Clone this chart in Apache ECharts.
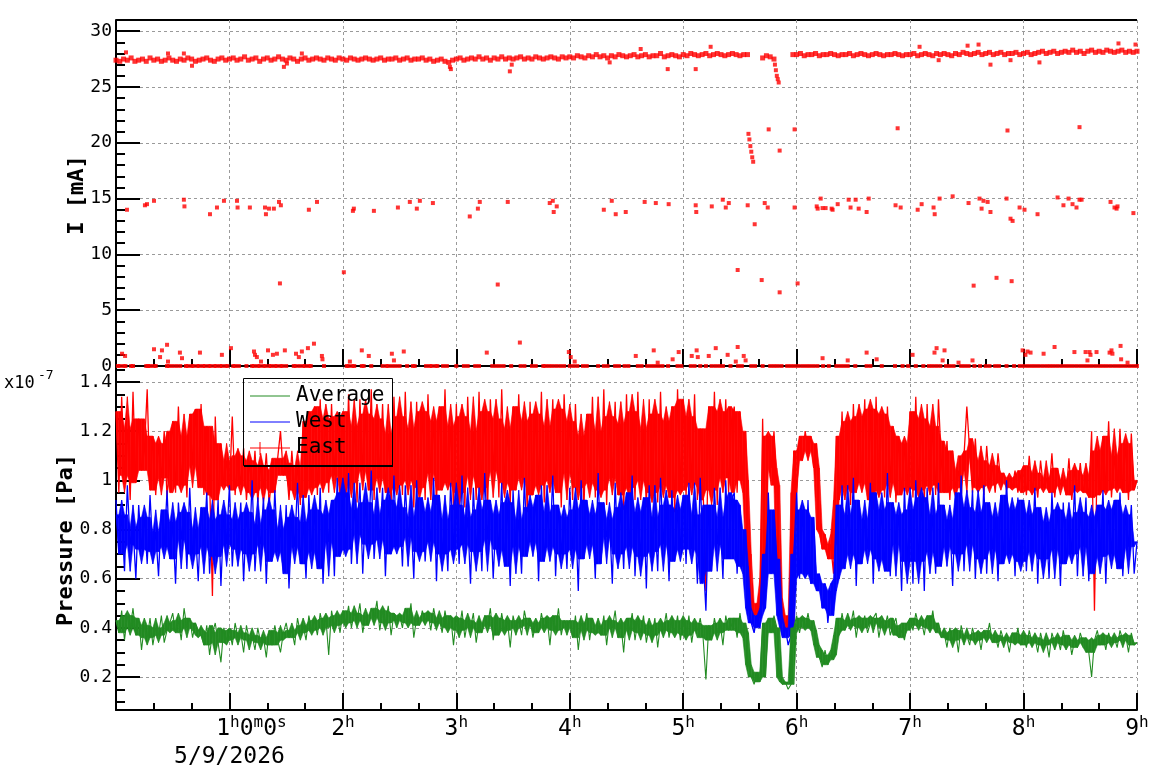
<!DOCTYPE html>
<html>
<head>
<meta charset="utf-8">
<title>I / Pressure</title>
<script src="https://cdn.jsdelivr.net/npm/echarts@6.0.0/dist/echarts.min.js"></script>
<style>
  html, body { margin: 0; padding: 0; background: #fff; }
  #chart { width: 1158px; height: 782px; }
</style>
</head>
<body>
<div id="chart"></div>
<script>
// time axis in minutes from start, labels in hours
var dateLabel = '5/9/2026'
var hourTicks = [0, 60, 120, 180, 240, 300, 360, 420, 480, 540]

// ---- beam current I [mA] ----
var currentTicks = [0, 5, 10, 15, 20, 25, 30]
var currentMinorTicks = [1, 2, 3, 4, 6, 7, 8, 9, 11, 12, 13, 14, 16, 17, 18, 19, 21, 22, 23, 24, 26, 27, 28, 29]
var currentStep = 2 // minutes between samples of the main band
var currentBand = [
  27.4,27.3,27.5,27.4,27.6,27.3,27.4,27.5,27.3,27.6,27.4,27.5,27.3,27.4,27.6,27.4,27.3,27.5,27.4,27.6,27.5,27.3,27.4,27.5,27.6,27.4,27.3,27.5,27.6,27.4,
  27.5,27.6,27.4,27.5,27.7,27.4,27.5,27.6,27.3,27.5,27.6,27.4,27.5,27.7,27.5,27.4,27.6,27.5,27.3,27.5,27.6,27.4,27.5,27.6,27.5,27.4,27.6,27.5,27.4,27.6,
  27.5,27.4,27.6,27.5,27.4,27.5,27.6,27.5,27.4,27.5,27.6,27.4,27.5,27.5,27.6,27.4,27.5,27.6,27.4,27.5,27.5,27.6,27.4,27.5,27.3,27.4,27.5,27.3,27.2,27.4,
  27.5,27.6,27.4,27.5,27.6,27.5,27.7,27.5,27.6,27.4,27.6,27.5,27.7,27.5,27.6,27.5,27.6,27.7,27.5,27.6,27.5,27.7,27.6,27.5,27.6,27.7,27.6,27.5,27.7,27.6,
  27.7,27.6,27.8,27.7,27.6,27.8,27.7,27.9,27.7,27.8,27.6,27.8,27.7,27.9,27.8,27.7,27.8,27.9,27.7,27.8,27.9,27.7,27.8,27.8,28.0,27.7,27.8,27.9,27.8,27.7,
  27.9,27.8,28.0,27.9,27.8,27.9,28.0,27.8,27.9,28.0,27.9,27.8,27.9,28.0,27.9,27.8,27.9,27.9,null,null,null,27.6,27.8,27.7,27.5,null,null,null,null,27.9,
  27.9,28.0,27.8,27.9,27.9,28.0,27.8,27.9,27.9,28.0,27.9,27.8,27.9,27.9,28.0,27.8,27.9,28.0,27.9,27.8,27.9,28.0,27.9,27.8,27.9,27.9,28.0,27.9,27.8,27.9,
  27.9,28.0,27.8,27.9,28.0,27.9,27.8,28.0,27.9,28.0,27.9,27.8,28.0,27.9,28.1,28.0,27.9,28.0,28.1,27.9,28.0,28.1,27.9,28.0,28.1,27.9,28.0,28.0,28.1,27.9,
  28.0,28.1,27.9,28.0,28.1,28.2,28.0,28.1,28.2,28.0,28.1,28.2,28.1,28.3,28.1,28.2,28.0,28.2,28.3,28.1,28.2,28.1,28.3,28.2,28.1,28.2,28.3,28.1,28.2,28.1,
  28.2
]
// [minute, mA] readings away from the main band
var currentStray = [
  [5.3,28.1],[27.5,28.0],[35.9,28.0],[40.2,26.9],[88.8,26.8],[90.4,27.1],[98.3,28.0],[176.6,26.8],[177.1,26.6],[208.3,26.4],[209.3,27.0],
  [261.1,27.2],[277.5,28.4],[291.8,26.6],[306.6,26.6],[314.5,28.6],[425.0,28.6],[435.1,27.4],[450.4,28.7],[456.2,28.8],[462.5,27.0],
  [473.1,27.4],[488.4,27.2],[530.2,28.9],[539.2,28.8],
  [334.5,20.8],[335,20.3],[335.5,19.7],[336,19.2],[336.5,18.7],[337,18.3],
  [348.5,27.0],[349,26.5],[349.5,26.0],[350,25.7],[350.5,25.4],
  [345.2,21.2],[358.9,21.2],[351.0,19.3],[413.4,21.3],[471.5,21.1],[509.6,21.4],
  [86.7,7.4],[120.5,8.4],[201.9,7.3],[328.8,8.6],[341.5,7.7],[351.0,6.6],[360.5,7.4],[453.6,7.2],[465.7,7.9],[473.7,7.6]
]
var currentMid = [
  [5.8,14.0],[15.3,14.4],[16.4,14.5],[20.1,14.8],[35.9,14.9],[36.2,14.3],[49.7,13.6],[53.4,14.2],[57.1,14.8],[64.0,14.8],[64.3,14.2],
  [70.8,14.2],[78.8,14.2],[79.3,13.6],[80.9,14.1],[83.5,14.1],[86.2,14.7],[87.2,14.4],[102.0,14.0],[106.3,14.7],[125.3,13.9],[125.8,14.1],
  [136.4,13.9],[149.1,14.2],[155.4,14.7],[159.1,14.1],[160.7,14.8],[167.6,14.6],[187.1,13.4],[191.4,14.1],[192.4,14.7],[207.2,14.7],
  [229.4,14.6],[231.0,14.8],[231.5,13.8],[233.1,14.3],[258.0,14.0],[262.2,14.8],[264.3,13.6],[269.6,13.8],[279.6,14.7],[285.5,14.6],
  [292.3,14.5],[306.6,14.4],[306.9,13.8],[315.1,14.3],[320.9,14.9],[322.5,14.2],[324.1,14.6],[334.1,14.4],[337.8,12.7],[343.1,14.6],
  [344.7,14.2],[358.9,14.2],[370.6,14.3],[371.1,14.1],[372.7,15.0],[373.7,14.15],[375.3,14.15],[378.5,14.1],[379.0,14.0],[381.7,14.5],
  [387.5,14.9],[388.5,14.2],[391.2,14.9],[392.8,14.1],[397.0,13.8],[398.1,15.0],[412.3,14.4],[415.0,14.2],[424.0,14.0],[426.1,14.5],
  [432.4,14.2],[433.0,13.6],[435.6,15.0],[442.5,15.2],[450.9,14.6],[456.7,15.0],[457.8,14.1],[458.8,14.8],[461.0,14.7],[462.5,13.8],
  [471.0,15.0],[473.1,13.2],[474.2,13.0],[477.9,14.2],[480.5,14.0],[487.4,13.6],[498.0,15.1],[501.1,14.4],[503.8,15.0],[505.9,14.5],
  [508.0,14.2],[509.6,14.9],[510.7,14.9],[526.0,14.7],[528.1,14.2],[529.2,14.1],[529.7,14.3],[538.1,13.7]
]
var currentLow = [
  [3.2,1.1],[4.8,0.9],[20.1,1.5],[23.3,0.8],[24.3,1.4],[27.0,1.9],[27.5,0.4],[33.8,1.2],[34.9,0.7],[44.4,1.2],[56.0,1.0],[60.8,1.6],
  [73.0,1.3],[73.5,1.0],[74.5,0.8],[76.7,0.4],[80.4,1.4],[83.0,1.0],[85.1,1.1],[89.3,1.4],[95.2,1.1],[96.7,0.8],[98.3,1.3],[101.5,1.6],
  [104.7,2.0],[108.9,0.9],[109.2,0.6],[123.7,0.4],[130.0,1.4],[133.7,0.9],[145.9,1.1],[147.0,0.5],[152.2,1.3],[196.1,1.2],[213.6,2.1],
  [239.5,1.25],[240.5,0.8],[242.6,0.4],[274.9,0.9],[284.4,1.4],[286.5,0.3],[294.4,0.6],[297.6,1.25],[304.5,0.9],[307.1,1.4],[307.7,0.8],
  [313.5,0.9],[317.2,1.6],[323.5,1.0],[327.8,0.4],[328.8,1.7],[332.0,0.9],[333.0,0.5],[373.7,0.7],[387.0,0.5],[397.0,1.2],[402.3,0.6],
  [421.3,1.0],[432.9,1.2],[434.0,1.6],[437.2,0.5],[438.2,1.4],[445.6,0.3],[453.0,0.5],[479.5,1.4],[481.0,1.0],[482.1,1.3],[483.7,1.2],
  [490.6,1.1],[496.4,1.7],[506.9,1.25],[512.8,1.25],[513.8,0.5],[514.9,1.25],[515.4,1.0],[518.6,1.25],[525.5,1.2],[526.5,1.4],[527.0,1.1],
  [531.3,1.8],[531.6,0.6],[535.0,0.3]
]
// minutes at which the current read 0 mA
var currentZeroTimes = [
  1,2,4,5,8,9,16,17,18,20,21,27,28,30,32,34,37,38,40,41,43,44,46,47,49,50,52,53,55,56,58,59,62,63,65,69,72,73,75,76,78,79,81,82,84,85,87,88,90,
  94,95,97,99,100,102,103,110,122,123,125,126,130,131,135,141,143,144,146,148,150,154,157,158,164,166,167,169,170,173,175,180,184,186,190,
  192,199,201,203,205,209,214,216,220,222,226,227,229,231,233,235,237,240,242,244,247,249,255,258,260,264,266,269,271,276,278,281,283,285,
  287,289,292,297,299,304,306,309,312,315,317,319,321,325,329,331,336,338,342,346,348,350,352,355,357,359,361,363,365,367,369,371,374,377,
  381,383,385,387,391,397,399,405,412,416,419,423,427,430,432,434,436,439,441,443,447,449,451,454,457,460,462,465,467,471,475,478,480,482,
  484,486,488,490,492,494,496,498,500,502,504,506,508,510,512,514,516,518,520,522,524,526,528,530,532,534,536,538,540
]

// ---- pressure, units of 1e-9 Pa (axis shows x10^-7) ----
var pressureTicks = [0.2, 0.4, 0.6, 0.8, 1, 1.2, 1.4]
var pressureMinorTicks = [0.1, 0.15, 0.25, 0.3, 0.35, 0.45, 0.5, 0.55, 0.65, 0.7, 0.75, 0.85, 0.9, 0.95, 1.05, 1.1, 1.15, 1.25, 1.3, 1.35, 1.45]
var pressureStep = 1.5 // minutes between samples
var eastP = [
  128,95,134,102,121,92,136,99,125,104,112,137,96,118,94,115,101,120,93,109,124,95,130,98,118,93,127,106,129,97,131,94,122,100,53,126,92,115,98,108,
  96,126,94,110,98,113,92,108,95,112,91,106,97,111,90,104,95,109,120,102,107,92,112,96,105,90,124,93,128,97,130,94,133,99,125,95,131,102,126,94,
  128,93,135,99,122,91,133,104,127,96,137,92,125,101,131,95,119,90,134,98,126,94,136,100,121,89,132,97,128,92,135,103,124,90,130,96,137,99,122,88,
  131,95,126,89,134,102,120,92,136,97,128,88,133,104,125,93,137,99,121,90,130,96,135,101,124,87,132,94,127,98,136,91,122,100,133,95,129,89,135,103,
  124,92,131,97,118,89,127,99,134,93,120,96,137,90,126,101,132,94,123,88,135,97,128,92,136,100,121,89,133,95,127,91,136,98,124,93,130,87,137,96,
  133,94,126,99,135,92,121,97,55,130,96,136,90,128,101,133,95,124,130,95,128,100,120,70,48,45,50,44,125,60,118,105,120,98,52,45,42,40,38,112,
  95,118,108,120,112,118,105,115,80,72,78,68,74,62,118,92,128,97,124,90,131,95,126,99,133,92,129,88,134,96,127,93,130,99,122,91,118,94,115,97,
  128,93,134,96,125,91,131,98,122,94,133,108,95,116,92,112,97,104,93,110,130,112,95,117,97,108,94,114,98,106,95,111,99,103,96,101,97,104,95,102,
  106,94,110,96,103,93,108,97,101,95,111,93,105,98,100,94,109,92,104,96,107,95,102,93,120,47,112,94,118,96,124,93,110,97,121,95,115,92,119,96,
  100
]
var westP = [
  92,70,86,63,98,74,81,60,90,72,85,66,94,71,79,61,88,73,96,68,83,58,91,76,87,64,97,70,80,59,89,73,95,62,84,69,92,57,86,74,
  98,65,84,72,91,59,87,70,100,63,82,74,93,58,88,67,96,71,80,62,90,56,85,73,99,66,83,60,94,71,88,64,97,58,86,75,92,61,101,69,
  95,72,103,66,88,78,99,62,91,74,104,68,86,76,97,61,92,70,102,73,89,65,98,77,85,60,100,71,93,67,87,75,101,59,94,70,84,63,99,72,
  90,66,102,74,85,58,97,71,88,63,103,76,92,60,86,72,99,65,91,57,96,73,84,62,101,69,89,75,94,59,98,67,87,73,102,61,90,70,85,64,
  97,72,88,55,100,68,92,74,86,60,103,66,91,77,84,58,99,70,89,64,95,73,102,61,87,69,93,56,98,71,85,63,101,74,90,59,96,67,88,72,
  94,66,99,72,86,58,101,69,47,90,63,97,74,85,60,100,68,92,95,62,90,65,80,48,42,38,45,40,70,48,95,62,88,68,45,36,40,33,37,70,
  95,60,88,62,92,58,85,55,62,48,58,42,55,45,90,60,98,64,86,70,101,57,92,66,84,72,99,58,95,68,88,63,103,61,91,74,86,55,97,67,
  88,58,100,67,93,55,97,71,86,62,99,65,90,73,84,57,95,70,102,63,89,74,96,60,87,68,98,62,91,72,85,59,94,66,100,70,88,61,93,67,
  92,63,86,71,97,58,89,68,83,60,95,72,88,57,91,66,84,70,98,61,87,73,93,59,85,62,90,69,96,58,88,70,92,64,95,61,86,73,90,62,
  75
]
var averageP = [
  43,38,47,35,45,40,48,37,44,31,41,36,44,33,40,37,45,34,39,42,46,38,43,35,48,40,44,36,42,39,37,33,41,29,38,42,34,26,40,35,
  39,33,42,36,38,30,41,35,37,31,40,34,36,28,39,33,41,35,30,38,42,36,39,33,44,38,41,35,45,39,43,37,46,40,44,29,47,41,45,38,
  47,42,49,40,46,43,50,38,45,41,48,44,51,39,47,42,49,37,46,43,45,40,48,42,50,36,44,41,47,43,46,39,48,42,44,38,47,40,45,33,
  44,39,47,36,43,40,46,34,42,38,45,41,48,35,44,37,46,39,43,32,45,40,43,37,47,41,44,36,42,38,46,40,44,33,45,39,48,37,43,40,
  43,36,45,31,42,39,46,35,44,38,41,37,45,33,43,40,47,36,42,30,44,39,46,35,43,38,45,34,41,37,44,32,42,39,46,36,43,38,45,35,
  43,37,45,34,42,39,44,36,19,41,35,44,38,42,33,45,39,41,44,36,46,38,42,25,20,17,22,18,42,20,44,38,45,40,20,17,18,15,17,40,
  45,38,44,40,46,39,43,33,28,24,31,25,29,27,44,37,46,39,43,41,47,36,44,40,45,38,42,44,46,36,43,40,45,37,41,44,36,39,35,42,
  44,39,46,41,43,37,45,40,47,38,42,36,38,32,40,35,39,30,41,36,37,33,40,35,38,31,39,36,42,34,37,32,39,35,36,30,38,34,40,33,
  37,32,39,34,36,30,38,33,35,28,38,34,36,31,39,33,37,29,35,32,38,34,36,30,20,35,39,33,37,31,38,34,36,32,39,35,37,30,38,33,
  34
]

;((w) => {
  w.onload = () => {
    var chart = echarts.init(document.getElementById('chart'))
    var MONO = 'DejaVu Sans Mono'
    var GRID = { color: '#9a9a9a', type: [3, 3], width: 1 }
    var BLACK = { color: '#000', width: 2 }

    var bandData = []
    currentBand.forEach((v, i) => {
      if (v !== null) bandData.push([i * currentStep, v])
    })
    var zeroData = currentZeroTimes.map(t => [t, 0])
    var toSeries = (arr) => arr.map((v, i) => [i * pressureStep, v / 100])

    // the real trace is ~1 sample per pixel and looks solid in the middle:
    // paint 2nd lowest .. 2nd highest of 5 neighbouring samples behind the line
    var coreSeries = (arr, color, z) => {
      var data = arr.map((v, i) => {
        var win = arr.slice(Math.max(0, i - 2), i + 3).sort((a, b) => a - b)
        return [i * pressureStep, win[1] / 100, win[win.length - 2] / 100]
      })
      return {
        type: 'custom', xAxisIndex: 1, yAxisIndex: 2, silent: true, z: z, data: data,
        encode: { x: 0, y: [1, 2] },
        renderItem: (params, api) => {
          var i = params.dataIndex
          if (i >= data.length - 1) return null
          var a = data[i], b = data[i + 1]
          return {
            type: 'polygon',
            shape: { points: [api.coord([a[0], a[1]]), api.coord([b[0], b[1]]), api.coord([b[0], b[2]]), api.coord([a[0], a[2]])] },
            style: { fill: color, stroke: color, lineWidth: 0.6 }
          }
        }
      }
    }
    var trace = (name, arr, color, width, z) => ({
      name: name, type: 'line', xAxisIndex: 1, yAxisIndex: 2, showSymbol: false, silent: true, z: z,
      lineStyle: { color: color, width: width }, data: toSeries(arr)
    })

    var xAxis = (idx, labels) => ({
      type: 'value', gridIndex: idx, min: 0, max: 540, interval: 60,
      axisLine: { show: true, onZero: false, lineStyle: BLACK },
      axisTick: { show: true, inside: true, length: 17, lineStyle: BLACK },
      minorTick: { show: true, splitNumber: 3, length: 7, lineStyle: BLACK },
      splitLine: { show: true, lineStyle: GRID },
      axisLabel: {
        show: labels, margin: 5, color: '#000', fontFamily: MONO, fontSize: 23,
        formatter: v => {
          if (hourTicks.indexOf(v) <= 0) return ''
          // ROOT puts the first time label off centre, the pad token pushes it right
          if (v === 60) return '{p|}{b|1}{s|h}{b|0}{s|m}{b|0}{s|s}\n{b|' + dateLabel + '}'
          return '{b|' + (v / 60) + '}{s|h}'
        },
        rich: {
          p: { width: 44, lineHeight: 28 },
          b: { fontFamily: MONO, fontSize: 23, lineHeight: 28, color: '#000' },
          s: { fontFamily: MONO, fontSize: 16, lineHeight: 16, verticalAlign: 'top', color: '#000' }
        }
      }
    })

    var option = {
      animation: false,
      backgroundColor: '#fff',
      grid: [
        { left: 116, right: 21, top: 20, height: 346, outerBoundsMode: 'none' },
        { left: 116, right: 21, top: 366, height: 344, outerBoundsMode: 'none' }
      ],
      xAxis: [xAxis(0, false), xAxis(1, true)],
      yAxis: [
        {
          type: 'value', gridIndex: 0, position: 'left', min: 0, max: 31, interval: 5,
          axisLine: { show: true, onZero: false, lineStyle: BLACK },
          axisTick: { show: true, inside: true, length: 24, lineStyle: BLACK, customValues: currentTicks },
          axisLabel: { margin: 4, color: '#000', fontFamily: MONO, fontSize: 18, customValues: currentTicks },
          splitLine: { show: true, lineStyle: GRID }
        },
        {
          type: 'value', gridIndex: 0, position: 'left', min: 0, max: 31,
          axisLine: { show: false }, axisLabel: { show: false }, splitLine: { show: false },
          axisTick: { show: true, inside: true, length: 9, lineStyle: BLACK, customValues: currentMinorTicks }
        },
        {
          type: 'value', gridIndex: 1, position: 'left', min: 0.066, max: 1.465, splitNumber: 7,
          axisLine: { show: true, onZero: false, lineStyle: BLACK },
          axisTick: { show: true, inside: true, length: 24, lineStyle: BLACK, customValues: pressureTicks },
          axisLabel: { margin: 4, color: '#000', fontFamily: MONO, fontSize: 18, customValues: pressureTicks },
          splitLine: { show: true, lineStyle: GRID }
        },
        {
          type: 'value', gridIndex: 1, position: 'left', min: 0.066, max: 1.465,
          axisLine: { show: false }, axisLabel: { show: false }, splitLine: { show: false },
          axisTick: { show: true, inside: true, length: 9, lineStyle: BLACK, customValues: pressureMinorTicks }
        }
      ],
      series: [
        { type: 'scatter', xAxisIndex: 0, yAxisIndex: 0, symbol: 'rect', symbolSize: 4, clip: false, silent: true,
          itemStyle: { color: '#ff0000' }, data: zeroData },
        { type: 'scatter', xAxisIndex: 0, yAxisIndex: 0, symbol: 'rect', symbolSize: 4, silent: true,
          itemStyle: { color: '#ff0000' }, data: currentLow.concat(currentMid, currentStray) },
        { type: 'scatter', xAxisIndex: 0, yAxisIndex: 0, symbol: 'rect', symbolSize: 5, silent: true,
          itemStyle: { color: '#ff0000' }, data: bandData },
        coreSeries(eastP, '#ff0000', 2), trace('East', eastP, '#ff0000', 1.3, 3),
        coreSeries(westP, '#0000ff', 4), trace('West', westP, '#0000ff', 1.3, 5),
        coreSeries(averageP, '#228b22', 6), trace('Average', averageP, '#228b22', 1.1, 7)
      ],
      graphic: [
        // frame top of the upper pad
        { type: 'line', shape: { x1: 116, y1: 20, x2: 1137, y2: 20 }, style: { stroke: '#000', lineWidth: 2 } },
        // axis titles
        { type: 'text', x: 77, y: 195, rotation: Math.PI / 2,
          style: { text: 'I [mA]', font: 'bold 22px "DejaVu Sans Mono"', fill: '#000', align: 'center', verticalAlign: 'middle' } },
        { type: 'text', x: 66, y: 540, rotation: Math.PI / 2,
          style: { text: 'Pressure [Pa]', font: 'bold 22px "DejaVu Sans Mono"', fill: '#000', align: 'center', verticalAlign: 'middle' } },
        { type: 'text', x: 4, y: 392,
          style: { text: 'x10', font: '17px "DejaVu Sans Mono"', fill: '#000', verticalAlign: 'bottom' } },
        { type: 'text', x: 38, y: 369,
          style: { text: '-7', font: '13px "DejaVu Sans Mono"', fill: '#000', verticalAlign: 'top' } },
        // legend
        { type: 'rect', shape: { x: 243.5, y: 378.5, width: 149, height: 87 }, style: { fill: 'none', stroke: '#000', lineWidth: 1 }, z: 100 },
        { type: 'line', shape: { x1: 244, y1: 466, x2: 393, y2: 466 }, style: { stroke: '#000', lineWidth: 2 }, z: 100 },
        { type: 'line', shape: { x1: 250, y1: 396, x2: 290, y2: 396 }, style: { stroke: '#228b22', lineWidth: 1 }, z: 100 },
        { type: 'line', shape: { x1: 250, y1: 422, x2: 290, y2: 422 }, style: { stroke: '#0000ff', lineWidth: 1 }, z: 100 },
        { type: 'line', shape: { x1: 250, y1: 448, x2: 290, y2: 448 }, style: { stroke: '#ff0000', lineWidth: 1 }, z: 100 },
        { type: 'line', shape: { x1: 260, y1: 442, x2: 260, y2: 455 }, style: { stroke: '#ff0000', lineWidth: 1 }, z: 100 },
        { type: 'text', x: 296, y: 396, z: 100, style: { text: 'Average', font: '21px "DejaVu Sans Mono"', fill: '#000', verticalAlign: 'middle' } },
        { type: 'text', x: 296, y: 422, z: 100, style: { text: 'West', font: '21px "DejaVu Sans Mono"', fill: '#000', verticalAlign: 'middle' } },
        { type: 'text', x: 296, y: 448, z: 100, style: { text: 'East', font: '21px "DejaVu Sans Mono"', fill: '#000', verticalAlign: 'middle' } }
      ]
    }
    chart.setOption(option)
  }
})(window)
</script>
</body>
</html>
